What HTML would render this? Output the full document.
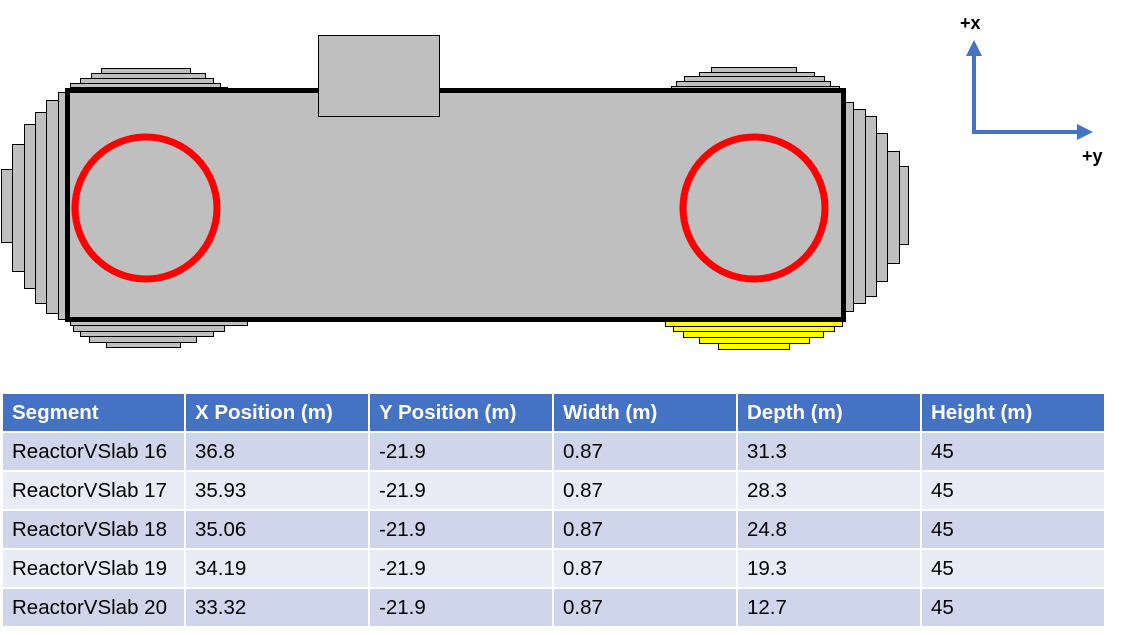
<!DOCTYPE html>
<html><head><meta charset="utf-8"><style>
html,body{margin:0;padding:0;background:#fff;width:1127px;height:635px;overflow:hidden}
svg{display:block;font-family:"Liberation Sans",Arial,sans-serif}
</style></head><body>
<svg id="s" width="1127" height="635">
<g id="slabs"></g>
<rect x="67.5" y="90.5" width="776" height="229" fill="#bfbfbf" stroke="#000" stroke-width="5"/>
<rect x="318.5" y="35.5" width="121" height="81" fill="#bfbfbf" stroke="#000" stroke-width="1"/>
<circle cx="146" cy="208" r="71" fill="none" stroke="#f00" stroke-width="7"/>
<circle cx="754" cy="208" r="71" fill="none" stroke="#f00" stroke-width="7"/>
<g>
<line x1="974" y1="133" x2="974" y2="55" stroke="#4472c4" stroke-width="4"/>
<polygon points="974,40 966,56 982,56" fill="#4472c4"/>
<line x1="972" y1="132" x2="1078" y2="132" stroke="#4472c4" stroke-width="4"/>
<polygon points="1093,132 1077,124 1077,140" fill="#4472c4"/>
<text x="960" y="29" font-size="18" font-weight="bold">+x</text>
<text x="1082" y="162" font-size="18" font-weight="bold">+y</text>
</g>
<g id="tbl"></g>
</svg>
<script>
const slabLeft=[[1,169,12,242],[12,144,24,271],[24,124,35,288],[35,112,46,303],[46,100,58,313],[58,92,70,319]];
const slabTopLeft=[[101,68,190,73],[91,73,205,78],[80,78,213,83],[70,83,220,87],[70,87,227,92]];
const slabBottomLeft=[[70,320,247,325],[73,325,224,331],[80,331,213,336],[89,336,196,342],[106,342,180,347]];
const slabRight=[[843,102,853,311],[853,109,865,303],[865,116,876,296],[876,133,887,281],[887,151,899,263],[899,166,908,244]];
const slabTopRight=[[711,67,796,72],[699,72,814,76],[684,76,824,81],[676,81,830,86],[671,86,839,90]];
const slabYellow=[[665,320,842,326],[673,326,834,331],[683,331,823,337],[699,337,809,343],[718,343,789,349]];
const NS="http://www.w3.org/2000/svg";
const g=document.getElementById('slabs');
function addSet(arr,fill,name){
  arr.forEach((r,i)=>{
    const e=document.createElementNS(NS,'rect');
    e.setAttribute('x',r[0]+0.5);e.setAttribute('y',r[1]+0.5);
    e.setAttribute('width',r[2]-r[0]);e.setAttribute('height',r[3]-r[1]);
    e.setAttribute('fill',fill);e.setAttribute('stroke','#000');e.setAttribute('stroke-width','1');
    
    
    g.appendChild(e);
  });
}
addSet(slabLeft,'#bfbfbf','left-slab');
addSet(slabTopLeft,'#bfbfbf','top-left-slab');
addSet(slabBottomLeft,'#bfbfbf','bottom-left-slab');
addSet(slabRight,'#bfbfbf','right-slab');
addSet(slabTopRight,'#bfbfbf','top-right-slab');
addSet(slabYellow,'#ffff00','highlighted-slab');

const headers=["Segment","X Position (m)","Y Position (m)","Width (m)","Depth (m)","Height (m)"];
const segs=["ReactorVSlab 16","ReactorVSlab 17","ReactorVSlab 18","ReactorVSlab 19","ReactorVSlab 20"];
const xPos=["36.8","35.93","35.06","34.19","33.32"];
const yPos=["-21.9","-21.9","-21.9","-21.9","-21.9"];
const widths=["0.87","0.87","0.87","0.87","0.87"];
const depths=["31.3","28.3","24.8","19.3","12.7"];
const heights=["45","45","45","45","45"];
const t=document.getElementById('tbl');
const colX=[2,185,369,553,737,921,1105];
const rowY=[393,432,471,510,549,588,627];
function cell(ci,ri,txt,bg,col,bold,name){
  const r=document.createElementNS(NS,'rect');
  r.setAttribute('x',colX[ci]);r.setAttribute('y',rowY[ri]);
  r.setAttribute('width',colX[ci+1]-colX[ci]);r.setAttribute('height',rowY[ri+1]-rowY[ri]);
  r.setAttribute('fill',bg);r.setAttribute('stroke','#fff');r.setAttribute('stroke-width','2');
  
  
  t.appendChild(r);
  const tx=document.createElementNS(NS,'text');
  tx.setAttribute('x',colX[ci]+10);tx.setAttribute('y',rowY[ri]+26);
  tx.setAttribute('font-size','20.5');tx.setAttribute('fill',col);
  if(bold)tx.setAttribute('font-weight','bold');
  tx.textContent=txt;
  
  
  t.appendChild(tx);
}
headers.forEach((h,i)=>cell(i,0,h,'#4472c4','#fff',true,'header-'+(i+1)));
for(let r=0;r<segs.length;r++){
  const bg=r%2===0?'#cfd5ea':'#e9ebf5';
  const vals=[segs[r],xPos[r],yPos[r],widths[r],depths[r],heights[r]];
  vals.forEach((v,c)=>cell(c,r+1,v,bg,'#000',false,'row-'+(r+1)+'-col-'+(c+1)));
}
</script>
</body></html>
